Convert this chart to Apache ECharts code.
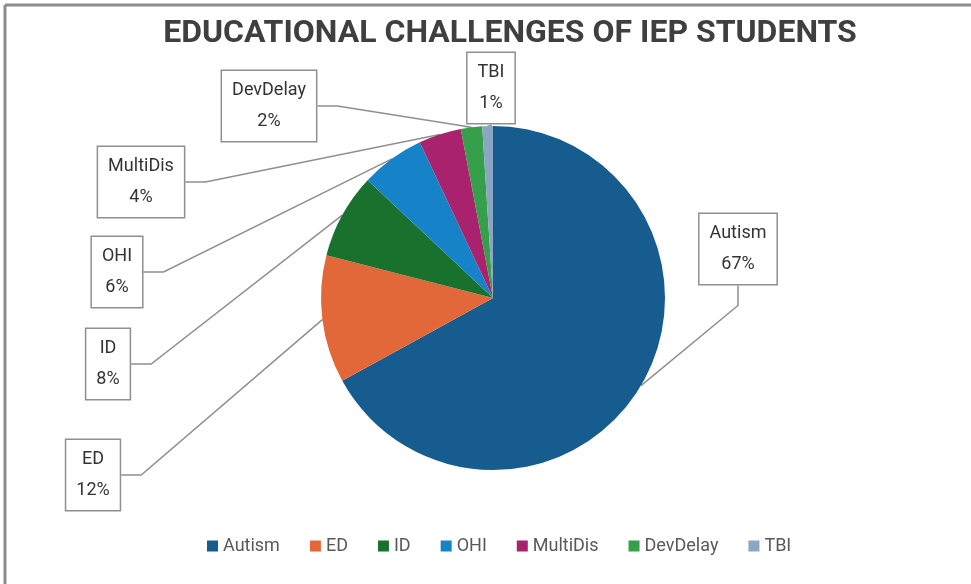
<!DOCTYPE html>
<html>
<head>
<meta charset="utf-8">
<script src="https://cdn.jsdelivr.net/npm/echarts@6/dist/echarts.min.js"></script>
<style>
  html, body { margin: 0; padding: 0; background: #fff; }
  #chart { width: 971px; height: 584px; }
</style>
</head>
<body>
<div id="chart"></div>
<script>
// chart data
var categories = ['Autism', 'ED', 'ID', 'OHI', 'MultiDis', 'DevDelay', 'TBI'];
var shares = [67, 12, 8, 6, 4, 2, 1];
var colors = ['#165c8f', '#e2683a', '#18712c', '#1683c8', '#a8226e', '#35a049', '#8aa6c4'];

// where each callout box sits (center), by slice
var boxSpots = [
  [738, 249], [93, 475], [108, 364], [117, 272], [141, 182], [269, 106], [491, 88]
];

var chart = echarts.init(document.getElementById('chart'));

var pieData = categories.map(function (name, i) {
  return { name: name, value: shares[i], itemStyle: { color: colors[i] } };
});

var option = {
  animation: false,
  title: {
    text: 'EDUCATIONAL CHALLENGES OF IEP STUDENTS',
    left: 505,
    top: 13,
    textAlign: 'center',
    textStyle: {
      fontFamily: 'Roboto',
      fontWeight: 'bold',
      fontSize: 32,
      color: '#3f3f3f'
    }
  },
  legend: {
    bottom: 24,
    left: 202,
    icon: 'rect',
    itemWidth: 11,
    itemHeight: 11,
    itemGap: 30,
    textStyle: { fontFamily: 'Roboto', fontSize: 18, color: '#595959' },
    data: categories
  },
  graphic: [
    { type: 'line', shape: { x1: 5, y1: 5, x2: 971, y2: 5 }, style: { stroke: '#8c8c8c', lineWidth: 3 } },
    { type: 'line', shape: { x1: 5, y1: 5, x2: 5, y2: 584 }, style: { stroke: '#8c8c8c', lineWidth: 3 } }
  ],
  series: [{
    type: 'pie',
    center: [493, 298],
    radius: [0, 172],
    startAngle: 90,
    clockwise: true,
    avoidLabelOverlap: false,
    data: pieData,
    label: {
      show: true,
      formatter: '{b}\n{d}%',
      fontFamily: 'Roboto',
      fontSize: 18,
      lineHeight: 31,
      color: '#333333',
      align: 'center',
      backgroundColor: '#fff',
      borderColor: '#8f8f8f',
      borderWidth: 1.5,
      padding: [4, 10]
    },
    labelLine: {
      show: true,
      length: 20,
      length2: 20,
      lineStyle: { color: '#8f8f8f', width: 1.5 }
    },
    labelLayout: function (params) {
      var p = boxSpots[params.dataIndex];
      return { x: p[0], y: p[1], align: 'center', verticalAlign: 'middle' };
    }
  }]
};

chart.setOption(option);
</script>
</body>
</html>
